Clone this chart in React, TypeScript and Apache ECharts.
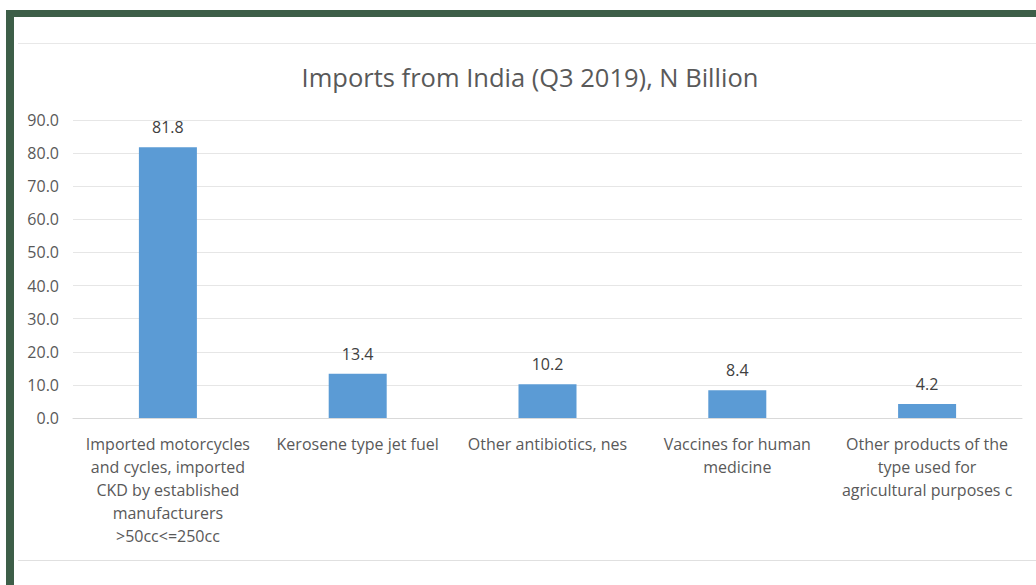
import React, { useEffect, useRef } from "react";
import * as echarts from "echarts";

const categories = [
  "Imported motorcycles\nand cycles, imported\nCKD by established\nmanufacturers\n>50cc<=250cc",
  "Kerosene type jet fuel",
  "Other antibiotics, nes",
  "Vaccines for human\nmedicine",
  "Other products of the\ntype used for\nagricultural purposes c",
];
const values = [81.8, 13.4, 10.2, 8.4, 4.2];
const titleText = "Imports from India (Q3 2019), N Billion";

export default function App() {
  const ref = useRef<HTMLDivElement>(null);
  useEffect(() => {
    if (!ref.current) return;
    const chart = echarts.init(ref.current, null, { renderer: "svg" });
    const font = "'Open Sans', sans-serif";
    chart.setOption({
      animation: false,
      backgroundColor: "#ffffff",
      title: {
        text: titleText,
        left: 525,
        textAlign: "center",
        top: 59,
        textStyle: { fontFamily: font, fontSize: 25.5, fontWeight: "normal", color: "#595959" },
      },
      grid: { left: 73, right: 14, top: 120, bottom: 167 },
      xAxis: {
        type: "category",
        data: categories,
        axisLine: { show: true, lineStyle: { color: "#d9d9d9" } },
        axisTick: { show: false },
        axisLabel: {
          interval: 0,
          fontFamily: font,
          fontSize: 16,
          lineHeight: 23,
          color: "#595959",
          margin: 14,
          align: "center",
        },
      },
      yAxis: {
        type: "value",
        min: 0,
        max: 90,
        interval: 10,
        axisLine: { show: false },
        axisTick: { show: false },
        axisLabel: {
          fontFamily: font,
          fontSize: 16,
          color: "#595959",
          margin: 14,
          formatter: (v: number) => v.toFixed(1),
        },
        splitLine: { lineStyle: { color: "#e6e6e6" } },
      },
      series: [
        {
          type: "bar",
          data: values,
          barWidth: 58,
          itemStyle: { color: "#5B9BD5" },
          label: {
            show: true,
            position: "top",
            distance: 12,
            fontFamily: font,
            fontSize: 16,
            color: "#404040",
            formatter: (p: any) => p.value.toFixed(1),
          },
        },
      ],
      graphic: [
        { type: "rect", shape: { x: 6, y: 10, width: 1030, height: 7 }, style: { fill: "#3d5e48" } },
        { type: "rect", shape: { x: 6, y: 10, width: 8, height: 575 }, style: { fill: "#3d5e48" } },
        { type: "line", shape: { x1: 18, y1: 43.5, x2: 1036, y2: 43.5 }, style: { stroke: "#e8e8e8", lineWidth: 1 } },
        { type: "line", shape: { x1: 18, y1: 560.5, x2: 1036, y2: 560.5 }, style: { stroke: "#e0e0e0", lineWidth: 1 } },
      ],
    });
    return () => chart.dispose();
  }, []);
  return (
    <div style={{ position: "fixed", left: 0, top: 0, width: 1036, height: 585, background: "#fff" }}>
      <div ref={ref} style={{ width: 1036, height: 585 }} />
    </div>
  );
}
